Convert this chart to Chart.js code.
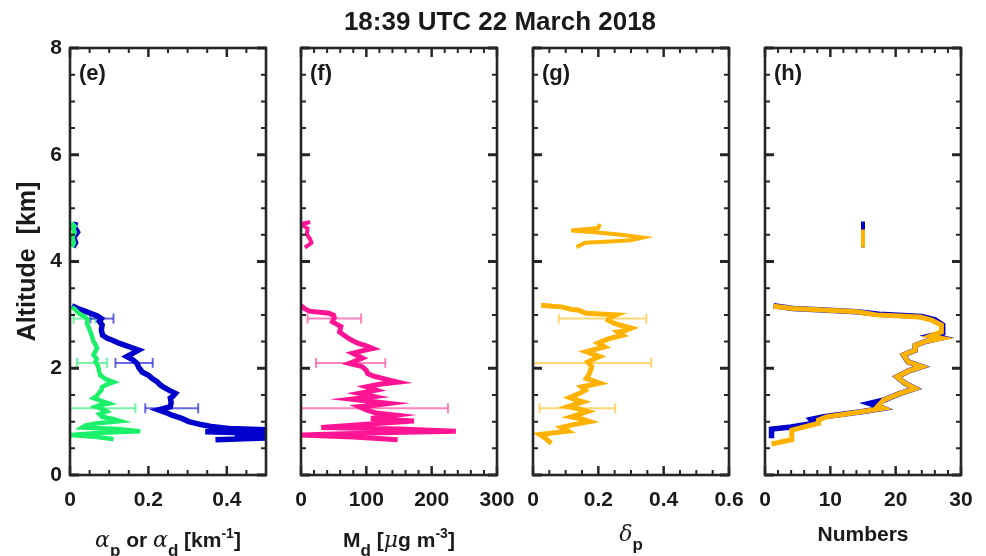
<!DOCTYPE html>
<html>
<head>
<meta charset="utf-8">
<script src="https://cdn.jsdelivr.net/npm/chart.js@4.4.1/dist/chart.umd.min.js"></script>
<style>
  body { margin: 0; background: #fff; overflow: hidden; }
  #wrap { position: relative; width: 986px; height: 556px; overflow: hidden; font-family: 'Liberation Sans', Arial, sans-serif; color: #1a1a1a; }
  canvas { position: absolute; top: 0; }
  .t { position: absolute; white-space: nowrap; font-weight: bold; }
  .title { left: 300px; width: 400px; top: 8px; font-size: 26px; line-height: 26px; text-align: center; }
  .lab { top: 62px; font-size: 22px; line-height: 22px; }
  .xt { top: 523px; width: 196px; font-size: 21px; line-height: 21px; text-align: center; }
  .gr { font-family: 'DejaVu Serif', serif; font-style: italic; font-weight: normal; font-size: 22px; }
  .sb { font-size: 17px; vertical-align: -9px; }
  .sp { font-size: 14px; vertical-align: 9px; }
</style>
</head>
<body>
<div id="wrap">
  <canvas id="cE" width="306" height="556" style="left:0px"></canvas>
  <canvas id="cF" width="276" height="556" style="left:261px"></canvas>
  <canvas id="cG" width="276" height="556" style="left:493px"></canvas>
  <canvas id="cH" width="261" height="556" style="left:725px"></canvas>

  <div class="t title">18:39 UTC 22 March 2018</div>
  <div class="t lab" style="left:79px">(e)</div>
  <div class="t lab" style="left:310px">(f)</div>
  <div class="t lab" style="left:542px">(g)</div>
  <div class="t lab" style="left:774px">(h)</div>

  <div class="t xt" style="left:70px"><span class="gr">α</span><span class="sb">p</span> or <span class="gr">α</span><span class="sb">d</span> [km<span class="sp">-1</span>]</div>
  <div class="t xt" style="left:301px">M<span class="sb">d</span> [<span class="gr">μ</span>g m<span class="sp">-3</span>]</div>
  <div class="t xt" style="left:533px"><span class="gr">δ</span><span class="sb">p</span></div>
  <div class="t xt" style="left:765px">Numbers</div>
</div>

<script>
// altitude axis ticks (km)
const altMajor = [0, 2, 4, 6, 8];
const altMinor = [0.5, 1, 1.5, 2.5, 3, 3.5, 4.5, 5, 5.5, 6.5, 7, 7.5];

// x axis ticks per panel
const xMajorE = [0, 0.2, 0.4];
const xMinorE = [0.05, 0.1, 0.15, 0.25, 0.3, 0.35, 0.45];
const xMajorF = [0, 100, 200, 300];
const xMinorF = [20, 40, 60, 80, 120, 140, 160, 180, 220, 240, 260, 280];
const xMajorG = [0, 0.2, 0.4, 0.6];
const xMinorG = [0.05, 0.1, 0.15, 0.25, 0.3, 0.35, 0.45, 0.5, 0.55];
const xMajorH = [0, 10, 20, 30];
const xMinorH = [2, 4, 6, 8, 12, 14, 16, 18, 22, 24, 26, 28];

// (e) particle extinction alpha_p (blue)
const altAlphaP = [3.17, 3.12, 3.09, 3.03, 2.98, 2.93, 2.88, 2.81, 2.72, 2.62, 2.56, 2.53, 2.47, 2.43, 2.38, 2.34,
  2.28, 2.22, 2.16, 2.09, 2.02, 1.93, 1.87, 1.81, 1.75, 1.69, 1.64, 1.59, 1.53, 1.47, 1.44, 1.36, 1.28, 1.22,
  1.17, 1.12, 1.06, 1.00, 0.94, 0.91, 0.87, 0.84, 0.82, 0.81, 0.79, 0.77, 0.75, 0.72, 0.70, 0.66];
const alphaP = [0.005, 0.02, 0.031, 0.052, 0.07, 0.08, 0.075, 0.082, 0.08, 0.083, 0.095, 0.107, 0.125, 0.141, 0.16, 0.175,
  0.16, 0.145, 0.16, 0.171, 0.175, 0.184, 0.2, 0.209, 0.222, 0.23, 0.24, 0.252, 0.269, 0.262, 0.256, 0.258, 0.256, 0.226,
  0.245, 0.26, 0.285, 0.303, 0.337, 0.36, 0.405, 0.53, 0.40, 0.345, 0.45, 0.55, 0.55, 0.42, 0.53, 0.371];
const altAlphaPUp = [4.74, 4.65, 4.55, 4.45, 4.35, 4.27];
const alphaPUp = [0.015, 0.012, 0.02, 0.01, 0.015, 0.008];

// (e) dust extinction alpha_d (green)
const altAlphaD = [3.15, 3.09, 3.03, 2.96, 2.90, 2.84, 2.76, 2.68, 2.60, 2.50, 2.43, 2.37, 2.31, 2.25, 2.18, 2.12,
  2.06, 2.00, 1.93, 1.87, 1.80, 1.74, 1.70, 1.65, 1.59, 1.53, 1.48, 1.44, 1.39, 1.34, 1.31, 1.28, 1.23, 1.19,
  1.14, 1.09, 1.05, 1.01, 0.97, 0.93, 0.89, 0.86, 0.82, 0.79, 0.75, 0.71, 0.67];
const alphaD = [0.005, 0.015, 0.022, 0.039, 0.045, 0.043, 0.048, 0.052, 0.056, 0.060, 0.066, 0.069, 0.064, 0.060, 0.068, 0.065,
  0.07, 0.073, 0.075, 0.077, 0.09, 0.111, 0.095, 0.082, 0.080, 0.073, 0.068, 0.060, 0.08, 0.099, 0.075, 0.065, 0.085, 0.094,
  0.075, 0.082, 0.11, 0.128, 0.07, 0.04, 0.031, 0.12, 0.179, 0.08, 0.001, 0.07, 0.111];
const altAlphaDUp = [4.72, 4.66, 4.62, 4.55, 4.45, 4.35, 4.27];
const alphaDUp = [0.004, 0.012, 0.008, 0.012, 0.006, 0.01, 0.005];

// (f) dust mass concentration M_d (pink)
const altMd = [3.17, 3.12, 3.07, 3.03, 2.99, 2.95, 2.87, 2.78, 2.68, 2.59, 2.53, 2.47, 2.42, 2.37, 2.33, 2.28,
  2.19, 2.09, 2.03, 1.96, 1.90, 1.85, 1.81, 1.77, 1.74, 1.70, 1.65, 1.59, 1.53, 1.47, 1.42, 1.38, 1.34, 1.30,
  1.28, 1.22, 1.16, 1.12, 1.06, 1.01, 0.96, 0.89, 0.86, 0.82, 0.79, 0.75, 0.71, 0.66];
const md = [0, 5, 12.7, 43, 50, 51, 48, 61, 59, 69, 77, 87, 100, 110, 95, 79,
  94, 74, 94, 100, 102, 112, 125, 137, 148, 120, 100, 115, 89, 112, 77, 105, 135, 110,
  89, 100, 115, 145, 107, 173, 110, 31, 150, 237, 120, 0, 80, 148];
const altMdUp = [4.74, 4.70, 4.62, 4.51, 4.42, 4.35, 4.26];
const mdUp = [14, 0, 10, 9, 14, 16, 6];

// (g) particle depolarization delta_p (orange)
const altDelta = [3.18, 3.16, 3.15, 3.10, 3.09, 3.03, 3.00, 2.95, 2.90, 2.84, 2.81, 2.75, 2.70, 2.68, 2.62, 2.55,
  2.47, 2.40, 2.31, 2.26, 2.22, 2.12, 2.03, 1.93, 1.87, 1.81, 1.72, 1.65, 1.59, 1.53, 1.45, 1.41, 1.37, 1.28,
  1.24, 1.19, 1.09, 1.05, 1.00, 0.94, 0.89, 0.82, 0.76, 0.68, 0.59];
const delta = [0.025, 0.06, 0.087, 0.12, 0.138, 0.163, 0.255, 0.235, 0.230, 0.25, 0.265, 0.301, 0.28, 0.260, 0.275, 0.230,
  0.199, 0.219, 0.163, 0.185, 0.204, 0.168, 0.18, 0.174, 0.17, 0.163, 0.204, 0.148, 0.16, 0.143, 0.112, 0.13, 0.153, 0.107,
  0.14, 0.168, 0.117, 0.15, 0.174, 0.12, 0.087, 0.107, 0.020, 0.04, 0.056];
const altDeltaUp = [4.70, 4.63, 4.58, 4.55, 4.50, 4.45, 4.40, 4.37, 4.35, 4.27];
const deltaUp = [0.205, 0.200, 0.117, 0.190, 0.27, 0.335, 0.30, 0.22, 0.16, 0.133];

// (h) numbers of profiles used (blue / orange)
const altNumB = [3.17, 3.12, 3.09, 3.06, 3.01, 2.97, 2.91, 2.81, 2.66, 2.61, 2.57, 2.50, 2.43, 2.34, 2.25, 2.12,
  2.03, 1.95, 1.84, 1.72, 1.62, 1.53, 1.40, 1.34, 1.29, 1.25, 1.19, 1.09, 1.04, 0.97, 0.90, 0.86, 0.69];
const numB = [1.3, 4.3, 9, 14, 17.5, 24, 26, 27.2, 27.2, 25.5, 27.0, 24.5, 23, 23, 21.2, 21.9,
  24, 22, 20.2, 21.4, 23, 20.7, 18.1, 16, 17.3, 18.1, 15, 9, 7, 7.5, 4, 1, 1];
const altNumO = [3.16, 3.12, 3.09, 3.06, 3.00, 2.96, 2.90, 2.81, 2.68, 2.60, 2.56, 2.50, 2.43, 2.34, 2.25, 2.12,
  2.03, 1.95, 1.84, 1.72, 1.62, 1.53, 1.40, 1.29, 1.25, 1.19, 1.09, 1.03, 0.97, 0.84, 0.66, 0.58];
const numO = [1.3, 4.3, 9, 14, 17.1, 23.7, 25.5, 27, 27, 25.3, 27, 24.5, 23, 23, 21.2, 21.9,
  24, 22, 20.2, 21.4, 23, 20.7, 18.1, 17.3, 18.1, 15, 9.4, 8.2, 8.2, 4.1, 4.1, 1];
const altNumBUp = [4.75, 4.26];
const numBUp = [15, 15];
const altNumOUp = [4.60, 4.26];
const numOUp = [15, 15];

// error bars: altitude, low, high
const errAlt = [2.93, 2.1, 1.25];
const errPLo = [0.052, 0.116, 0.192];
const errPHi = [0.111, 0.211, 0.327];
const errDLo = [0.009, 0.018, -0.02];
const errDHi = [0.065, 0.094, 0.167];
const errMdLo = [10, 23, -5];
const errMdHi = [92, 129, 225];
const errDeltaLo = [0.079, -0.01, 0.020];
const errDeltaHi = [0.347, 0.362, 0.252];

const BLUE = '#0000cc';
const GREEN = '#1cf06a';
const PINK = '#ff1493';
const ORANGE = '#ffb300';
const AXIS = '#262626';
const FONT = "'Liberation Sans', Arial, sans-serif";

function profile(vals, alts) {
    return vals.map((v, i) => ({x: v, y: alts[i]}));
}

function curve(vals, alts, color, width) {
    return {
        data: profile(vals, alts),
        borderColor: color,
        borderWidth: width,
        pointRadius: 0,
        tension: 0
    };
}

function errorBars(lo, hi, color) {
    return errAlt.map((a, i) => ({
        data: [{x: lo[i], y: a}, {x: hi[i], y: a}],
        borderColor: color,
        borderWidth: 2,
        pointStyle: 'line',
        pointRotation: 90,
        pointRadius: 5,
        pointBorderWidth: 2,
        pointBorderColor: color,
        tension: 0
    }));
}

// box frame with inward ticks on all four sides
const innerTicks = {
    id: 'innerTicks',
    afterDatasetsDraw(chart, args, o) {
        const {ctx, chartArea: a} = chart;
        const sx = chart.scales.x;
        const sy = chart.scales.y;
        ctx.save();
        ctx.strokeStyle = AXIS;
        const mark = (vals, len, w, horiz) => {
            ctx.lineWidth = w;
            ctx.beginPath();
            vals.forEach(v => {
                if (horiz) {
                    const p = sx.getPixelForValue(v);
                    ctx.moveTo(p, a.bottom); ctx.lineTo(p, a.bottom - len);
                    ctx.moveTo(p, a.top); ctx.lineTo(p, a.top + len);
                } else {
                    const p = sy.getPixelForValue(v);
                    ctx.moveTo(a.left, p); ctx.lineTo(a.left + len, p);
                    ctx.moveTo(a.right, p); ctx.lineTo(a.right - len, p);
                }
            });
            ctx.stroke();
        };
        mark(o.xMinor, 5, 2, true);
        mark(o.xMajor, 9, 2.5, true);
        mark(altMinor, 5, 2, false);
        mark(altMajor, 9, 3, false);
        ctx.lineWidth = 2.6;
        ctx.strokeRect(a.left, a.top, a.right - a.left, a.bottom - a.top);
        ctx.restore();
    }
};

function panel(id, pad, xMax, xMajor, xMinor, datasets, showY) {
    return new Chart(document.getElementById(id), {
        type: 'line',
        data: {datasets: datasets},
        options: {
            responsive: false,
            animation: false,
            layout: {padding: pad},
            plugins: {
                legend: {display: false},
                tooltip: {enabled: false},
                innerTicks: {xMajor: xMajor, xMinor: xMinor}
            },
            scales: {
                x: {
                    type: 'linear',
                    min: 0,
                    max: xMax,
                    afterBuildTicks: s => { s.ticks = xMajor.map(v => ({value: v})); },
                    afterFit: s => { s.height = 81; },
                    grid: {display: false, drawTicks: false},
                    border: {display: false},
                    ticks: {
                        padding: 13,
                        color: '#1a1a1a',
                        autoSkip: false,
                        maxRotation: 0,
                        font: {family: FONT, size: 21, weight: 'bold'},
                        callback: v => String(v)
                    }
                },
                y: {
                    type: 'linear',
                    min: 0,
                    max: 8,
                    display: showY,
                    afterBuildTicks: s => { s.ticks = altMajor.map(v => ({value: v})); },
                    afterFit: s => { s.width = showY ? 70 : 0; },
                    grid: {display: false, drawTicks: false},
                    border: {display: false},
                    ticks: {
                        padding: 8,
                        color: '#1a1a1a',
                        font: {family: FONT, size: 21, weight: 'bold'}
                    },
                    title: {
                        display: true,
                        text: 'Altitude  [km]',
                        color: '#1a1a1a',
                        padding: {top: 13, bottom: 0},
                        font: {family: FONT, size: 25, weight: 'bold'}
                    }
                }
            }
        },
        plugins: [innerTicks]
    });
}

panel('cE', {left: 0, right: 40, top: 48, bottom: 0}, 0.5, xMajorE, xMinorE, [
    curve(alphaD, altAlphaD, GREEN, 4.5),
    curve(alphaDUp, altAlphaDUp, GREEN, 4.5),
    curve(alphaP, altAlphaP, BLUE, 5.5),
    curve(alphaPUp, altAlphaPUp, BLUE, 5),
    ...errorBars(errPLo, errPHi, 'rgba(40,40,215,0.7)'),
    ...errorBars(errDLo, errDHi, 'rgba(60,240,130,0.7)')
], true);

panel('cF', {left: 40, right: 40, top: 48, bottom: 0}, 300, xMajorF, xMinorF, [
    curve(md, altMd, PINK, 5),
    curve(mdUp, altMdUp, PINK, 4),
    ...errorBars(errMdLo, errMdHi, 'rgba(255,90,170,0.75)')
], false);

panel('cG', {left: 40, right: 40, top: 48, bottom: 0}, 0.6, xMajorG, xMinorG, [
    curve(delta, altDelta, ORANGE, 5),
    curve(deltaUp, altDeltaUp, ORANGE, 4),
    ...errorBars(errDeltaLo, errDeltaHi, 'rgba(255,200,70,0.75)')
], false);

panel('cH', {left: 40, right: 25, top: 48, bottom: 0}, 30, xMajorH, xMinorH, [
    curve(numO, altNumO, ORANGE, 5),
    curve(numOUp, altNumOUp, ORANGE, 4),
    curve(numB, altNumB, BLUE, 5.5),
    curve(numBUp, altNumBUp, BLUE, 4)
], false);
</script>
</body>
</html>
